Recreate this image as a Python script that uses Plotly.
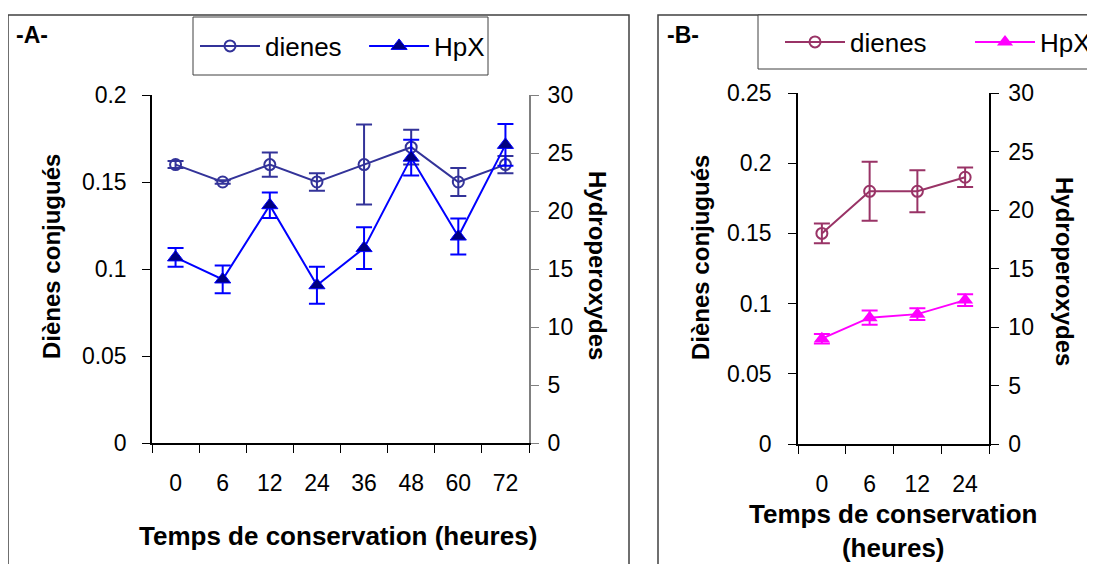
import plotly.graph_objects as go

# ---------------- data ----------------
times_A = ["0", "6", "12", "24", "36", "48", "60", "72"]
dienes_A = [0.16, 0.15, 0.16, 0.15, 0.16, 0.17, 0.15, 0.16]
dienes_A_err = [0.002, 0.001, 0.007, 0.005, 0.023, 0.010, 0.008, 0.005]
hpx_A = [16.0, 14.1, 20.5, 13.6, 16.8, 24.6, 17.8, 25.7]
hpx_A_err = [0.8, 1.2, 1.1, 1.6, 1.8, 1.55, 1.55, 1.8]

times_B = ["0", "6", "12", "24"]
dienes_B = [0.15, 0.18, 0.18, 0.19]
dienes_B_err = [0.007, 0.021, 0.015, 0.007]
hpx_B = [9.0, 10.8, 11.1, 12.3]
hpx_B_err = [0.4, 0.6, 0.5, 0.5]

W, H = 1095, 564
OFF = 8  # page body margin
FONT = "Arial, Liberation Sans, sans-serif"


def fx(px):
    return (px - OFF) / W


def fy(py):
    return 1 - (py - OFF) / H


domA_x = [fx(152), fx(529)]
domA_y = [fy(443), fy(95)]
domB_x = [fx(798), fx(989)]
domB_y = [fy(444), fy(93)]

fig = go.Figure()

# ---- Panel A ----
fig.add_trace(go.Scatter(
    x=times_A, y=dienes_A, name="dienes\u00a0\u00a0", xaxis="x", yaxis="y",
    mode="lines+markers", legend="legend",
    line=dict(color="#333399", width=2),
    marker=dict(symbol="circle-open", size=11, color="#333399", line=dict(width=2)),
    error_y=dict(type="data", array=dienes_A_err, color="#333399", thickness=2, width=8),
))
fig.add_trace(go.Scatter(
    x=times_A, y=hpx_A, name="HpX", xaxis="x", yaxis="y2",
    mode="lines+markers", legend="legend",
    line=dict(color="#0000FF", width=2),
    marker=dict(symbol="triangle-up", size=14, color="#000080", line=dict(width=1, color="#0000FF")),
    error_y=dict(type="data", array=hpx_A_err, color="#0000FF", thickness=2, width=8),
))

# ---- Panel B ----
fig.add_trace(go.Scatter(
    x=times_B, y=dienes_B, name="dienes", xaxis="x2", yaxis="y5",
    mode="lines+markers", legend="legend2",
    line=dict(color="#993366", width=2),
    marker=dict(symbol="circle-open", size=11, color="#993366", line=dict(width=2)),
    error_y=dict(type="data", array=dienes_B_err, color="#993366", thickness=2, width=8),
))
fig.add_trace(go.Scatter(
    x=times_B, y=hpx_B, name="HpX", xaxis="x2", yaxis="y6",
    mode="lines+markers", legend="legend2",
    line=dict(color="#FF00FF", width=2),
    marker=dict(symbol="triangle-up", size=14, color="#FF00FF"),
    error_y=dict(type="data", array=hpx_B_err, color="#FF00FF", thickness=2, width=8),
))

tickfont = dict(family=FONT, size=23, color="black")
base_ax = dict(showgrid=False, zeroline=False, fixedrange=True, automargin=False)

layout = dict(
    width=W, height=H,
    autosize=False,
    margin=dict(l=0, r=0, t=0, b=0, pad=0, autoexpand=False),
    paper_bgcolor="white", plot_bgcolor="rgba(0,0,0,0)",
    font=dict(family=FONT, size=23, color="black"),
    # panel A axes
    xaxis=dict(**base_ax, domain=domA_x, anchor="y", type="category",
               categoryorder="array", categoryarray=times_A, range=[-0.5, 7.5],
               tickson="boundaries", ticks="outside", ticklen=8, tickcolor="black",
               showline=True, linecolor="black", linewidth=1.5, tickfont=tickfont,
               ticklabelstandoff=19),
    yaxis=dict(**base_ax, domain=domA_y, anchor="x", range=[0, 0.2], dtick=0.05,
               ticks="outside", ticklen=8, tickcolor="black", showline=True,
               linecolor="black", linewidth=1.5, tickfont=tickfont, ticklabelstandoff=11),
    yaxis2=dict(**base_ax, overlaying="y", side="right", anchor="x", range=[0, 30], dtick=5,
                ticks="outside", ticklen=8, tickcolor="#808080", showline=True,
                linecolor="#808080", linewidth=2, tickfont=tickfont, ticklabelstandoff=4),
    xaxis3=dict(**base_ax, overlaying="x", anchor="y", range=[-0.5, 7.5],
                tickvals=[i - 0.5 for i in range(len(times_A) + 1)],
                ticks="inside", ticklen=8, tickcolor="black", showticklabels=False, showline=False),
    yaxis3=dict(**base_ax, overlaying="y", side="left", anchor="x", range=[0, 0.2], dtick=0.05,
                ticks="inside", ticklen=8, tickcolor="black", showticklabels=False, showline=False),
    yaxis4=dict(**base_ax, overlaying="y", side="right", anchor="x", range=[0, 30], dtick=5,
                ticks="inside", ticklen=8, tickcolor="#808080", showticklabels=False, showline=False),
    # panel B axes
    xaxis2=dict(**base_ax, domain=domB_x, anchor="y5", type="category",
                categoryorder="array", categoryarray=times_B, range=[-0.5, 3.5],
                tickson="boundaries", ticks="outside", ticklen=8, tickcolor="black",
                showline=True, linecolor="black", linewidth=1.5, tickfont=tickfont,
                ticklabelstandoff=19),
    yaxis5=dict(**base_ax, domain=domB_y, anchor="x2", range=[0, 0.25], dtick=0.05,
                ticks="outside", ticklen=8, tickcolor="black", showline=True,
                linecolor="black", linewidth=1.5, tickfont=tickfont, ticklabelstandoff=12),
    yaxis6=dict(**base_ax, overlaying="y5", side="right", anchor="x2", range=[0, 30], dtick=5,
                ticks="outside", ticklen=8, tickcolor="black", showline=True,
                linecolor="black", linewidth=1.5, tickfont=tickfont, ticklabelstandoff=5),
    xaxis4=dict(**base_ax, overlaying="x2", anchor="y5", range=[-0.5, 3.5],
                tickvals=[i - 0.5 for i in range(len(times_B) + 1)],
                ticks="inside", ticklen=8, tickcolor="black", showticklabels=False, showline=False),
    yaxis7=dict(**base_ax, overlaying="y5", side="left", anchor="x2", range=[0, 0.25], dtick=0.05,
                ticks="inside", ticklen=8, tickcolor="black", showticklabels=False, showline=False),
    yaxis8=dict(**base_ax, overlaying="y5", side="right", anchor="x2", range=[0, 30], dtick=5,
                ticks="inside", ticklen=8, tickcolor="black", showticklabels=False, showline=False),
    legend=dict(x=fx(192), y=fy(46), xanchor="left", yanchor="middle", orientation="h",
                bgcolor="rgba(0,0,0,0)", borderwidth=0, indentation=3,
                font=dict(family=FONT, size=26, color="black"),
                itemwidth=60),
    legend2=dict(x=fx(760), y=fy(42), xanchor="left", yanchor="middle", orientation="h",
                 bgcolor="rgba(0,0,0,0)", borderwidth=0, indentation=20,
                 font=dict(family=FONT, size=26, color="black"),
                 itemwidth=60, entrywidth=95),
    showlegend=True,
)
fig.update_layout(**layout)

# frames around panels
fig.add_shape(type="rect", xref="paper", yref="paper", x0=fx(8), x1=fx(629), y0=fy(640), y1=fy(15),
              line=dict(color="#404040", width=1.5), layer="below")
fig.add_shape(type="rect", xref="paper", yref="paper", x0=fx(658), x1=fx(1250), y0=fy(640), y1=fy(15),
              line=dict(color="#404040", width=1.5), layer="below")
# legend boxes
fig.add_shape(type="rect", xref="paper", yref="paper", x0=fx(193), x1=fx(488), y0=fy(75), y1=fy(17),
              line=dict(color="#404040", width=1), fillcolor="white", layer="below")
fig.add_shape(type="rect", xref="paper", yref="paper", x0=fx(758), x1=fx(1250), y0=fy(69), y1=fy(15),
              line=dict(color="#404040", width=1), fillcolor="white", layer="below")

# texts
ann = [
    dict(text="<b>-A-</b>", x=fx(14), y=fy(35), xanchor="left", yanchor="middle", font=dict(size=23)),
    dict(text="<b>-B-</b>", x=fx(665), y=fy(35), xanchor="left", yanchor="middle", font=dict(size=23)),
    dict(text="<b>Diènes conjugués</b>", x=fx(52), y=fy(257), textangle=-90, font=dict(size=24)),
    dict(text="<b>Hydroperoxydes</b>", x=fx(598), y=fy(265), textangle=90, font=dict(size=24)),
    dict(text="<b>Temps de conservation (heures)</b>", x=fx(338), y=fy(536), font=dict(size=26)),
    dict(text="<b>Diènes conjugués</b>", x=fx(701), y=fy(258), textangle=-90, font=dict(size=24)),
    dict(text="<b>Hydroperoxydes</b>", x=fx(1065), y=fy(271), textangle=90, font=dict(size=24)),
    dict(text="<b>Temps de conservation</b><br><b>(heures)</b>", x=fx(893), y=fy(531), font=dict(size=26)),
]
for a in ann:
    a.setdefault("xanchor", "center")
    a.setdefault("yanchor", "middle")
    fig.add_annotation(xref="paper", yref="paper", showarrow=False,
                       font_family=FONT, font_color="black", **{k: v for k, v in a.items()})

fig.write_html("out.html")
